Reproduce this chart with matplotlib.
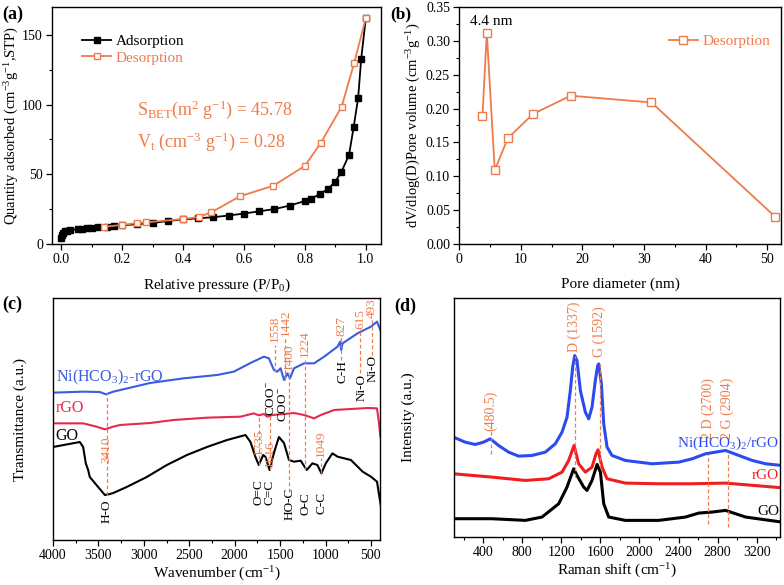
import matplotlib
matplotlib.use('Agg')
import matplotlib.pyplot as plt
from matplotlib.ticker import MultipleLocator, NullLocator

plt.rcParams['font.family'] = ['Liberation Serif', 'DejaVu Serif']
plt.rcParams['mathtext.fontset'] = 'custom'
plt.rcParams['mathtext.rm'] = 'Liberation Serif'
plt.rcParams['mathtext.it'] = 'Liberation Serif:italic'
plt.rcParams['mathtext.bf'] = 'Liberation Serif:bold'

ORANGE = '#F07A4A'
BLUE_C = '#3B5BE0'
RED_C = '#E8294F'
BLUE_D = '#2B4BF0'
RED_D = '#F01E1E'

# ---------------- (a) N2 isotherm ----------------
ads_p = [0.001, 0.003, 0.007, 0.012, 0.02, 0.03, 0.055, 0.07, 0.085, 0.1, 0.12, 0.15,
         0.175, 0.2, 0.25, 0.3, 0.35, 0.4, 0.45, 0.5, 0.55, 0.6, 0.65, 0.7, 0.75, 0.8,
         0.82, 0.85, 0.875, 0.9, 0.92, 0.945, 0.96, 0.975, 0.985, 1.0]
ads_q = [4.0, 6.5, 8.2, 9.0, 9.6, 10.0, 10.6, 11.0, 11.3, 11.6, 12.0, 12.5,
         13.0, 13.4, 14.2, 15.0, 16.5, 17.6, 18.4, 19.2, 20.4, 21.8, 23.4, 25.0, 27.5, 30.8,
         32.5, 35.8, 39.4, 44.7, 51.8, 63.8, 83.6, 105.0, 133.0, 162.0]
des_p = [0.142, 0.2, 0.249, 0.278, 0.4, 0.452, 0.493, 0.587, 0.697, 0.8, 0.852, 0.921, 0.962, 1.0]
des_q = [12.4, 13.6, 15.0, 15.5, 17.9, 19.3, 22.7, 34.2, 41.8, 56.0, 72.4, 98.6, 130.0, 162.0]

# ---------------- (b) pore size distribution ----------------
pore_d = [3.8, 4.5, 5.8, 7.9, 12.0, 18.1, 31.2, 51.3]
pore_v = [0.189, 0.312, 0.109, 0.156, 0.192, 0.219, 0.209, 0.040]

# ---------------- (c) FTIR ----------------
ir_go_x = [4000, 3705, 3668, 3639, 3613, 3595, 3503, 3429, 3374, 3337, 3189, 2968, 2747,
           2526, 2305, 2084, 1881, 1826, 1771, 1734, 1686, 1660, 1616, 1568, 1513, 1457,
           1402, 1347, 1273, 1207, 1144, 1089, 1045, 997, 924, 868, 720, 591, 500, 433,
           407, 389]
ir_go_y = [2.79, 2.94, 2.79, 2.30, 2.10, 1.89, 1.59, 1.35, 1.38, 1.41, 1.59, 1.89, 2.25,
           2.55, 2.79, 3.00, 3.15, 2.94, 2.49, 2.25, 2.55, 2.49, 2.10, 2.61, 3.09, 2.91,
           2.40, 2.35, 2.38, 2.10, 2.30, 2.25, 2.00, 2.30, 2.60, 2.50, 2.40, 2.05, 1.90, 1.75,
           1.30, 1.00]
ir_rgo_x = [4000, 3668, 3521, 3429, 3337, 3263, 2931, 2673, 2305, 1936, 1789, 1734, 1678,
            1642, 1586, 1457, 1347, 1236, 1126, 1052, 905, 720, 536, 433, 411, 396]
ir_rgo_y = [3.50, 3.50, 3.40, 3.32, 3.40, 3.45, 3.51, 3.60, 3.67, 3.70, 3.80, 3.74, 3.78,
            3.70, 3.75, 3.78, 3.81, 3.75, 3.65, 3.75, 3.90, 3.93, 3.96, 3.95, 3.50, 3.10]
ir_ni_x = [4000, 3668, 3484, 3418, 3337, 2931, 2563, 2194, 2010, 1826, 1678, 1623, 1568,
           1531, 1494, 1457, 1420, 1391, 1347, 1236, 1126, 1015, 868, 838, 827, 812, 647,
           500, 433, 396]
ir_ni_y = [4.42, 4.45, 4.44, 4.37, 4.45, 4.71, 4.85, 4.95, 5.05, 5.31, 5.50, 5.45, 5.10,
           5.05, 5.15, 4.80, 5.00, 4.85, 5.15, 5.30, 5.30, 5.50, 5.80, 5.95, 5.70, 5.90, 6.20,
           6.40, 6.55, 6.30]

# ---------------- (d) Raman ----------------
ra_ni_x = [96, 215, 318, 403, 472, 557, 660, 762, 899, 1036, 1138, 1207, 1258, 1292, 1316,
           1337, 1360, 1395, 1446, 1480, 1514, 1548, 1572, 1583, 1610, 1634, 1668, 1719,
           1856, 2129, 2403, 2540, 2676, 2881, 3018, 3155, 3292, 3456]
ra_ni_y = [3.00, 2.85, 2.78, 2.85, 2.95, 2.75, 2.55, 2.43, 2.45, 2.55, 2.80, 3.15, 3.60, 4.40,
           5.10, 5.45, 5.30, 4.40, 3.75, 3.55, 3.90, 4.70, 5.15, 5.20, 4.60, 3.40, 2.70, 2.45,
           2.30, 2.20, 2.25, 2.35, 2.50, 2.60, 2.45, 2.30, 2.20, 2.15]
ra_rgo_x = [96, 489, 831, 1070, 1207, 1275, 1330, 1377, 1446, 1514, 1555, 1576, 1617, 1668,
            1856, 2198, 2540, 2881, 3456]
ra_rgo_y = [1.90, 1.80, 1.70, 1.75, 1.95, 2.30, 2.75, 2.20, 1.95, 2.10, 2.50, 2.62, 2.10, 1.75,
            1.62, 1.60, 1.60, 1.62, 1.48]
ra_go_x = [96, 489, 831, 1002, 1173, 1258, 1326, 1360, 1429, 1463, 1514, 1566, 1600, 1634,
           1685, 1856, 2198, 2471, 2608, 2745, 2881, 3087, 3456]
ra_go_y = [0.55, 0.55, 0.50, 0.60, 1.00, 1.50, 2.05, 1.85, 1.50, 1.40, 1.70, 2.18, 1.95, 1.00,
           0.60, 0.50, 0.50, 0.60, 0.72, 0.75, 0.80, 0.60, 0.45]

# FTIR annotations: (position, label, label_y, line_y0, line_y1)
ir_marks = [(3410, '3410', 2.70, 1.35, 4.40), (1735, '1735', 2.95, 2.25, 3.75),
            (1616, '1616', 2.60, 2.10, 3.75), (1558, '1558', 6.35, 5.05, 5.85),
            (1442, '1442', 6.53, 4.80, 6.10), (1400, '1400', 5.50, 1.45, 5.05),
            (1224, '1224', 5.90, 2.10, 5.45), (1049, '1049', 2.90, 2.00, 2.45),
            (827, '827', 6.43, 5.40, 6.15), (615, '615', 6.62, 5.00, 6.35),
            (493, '493', 6.95, 5.55, 6.65)]
ir_groups = [(3410, 'H-O', 0.85), (1735, 'O=C', 1.43), (1616, 'C=C', 1.43),
             (1600, 'COO$^{-}$', 4.25), (1468, 'COO$^{-}$', 4.05), (1400, 'HO-C', 1.10),
             (1224, 'O-C', 1.10), (1049, 'C-C', 1.10), (812, 'C-H', 5.05),
             (600, 'Ni-O', 4.58), (481, 'Ni-O', 5.15)]

# Raman annotations: (position, label, label_y, line_y0, line_y1)
ra_marks = [(480.5, '(480.5)', 3.80, 2.50, 3.30), (1337, 'D (1337)', 6.30, 1.80, 5.45),
            (1592, 'G (1592)', 6.18, 2.10, 5.20), (2700, '2 D (2700)', 3.85, 0.40, 2.50),
            (2904, '2 G (2904)', 3.85, 0.30, 2.50)]

fig = plt.figure(figsize=(7.84, 5.85), dpi=100)


def style_axes(ax):
    for s in ax.spines.values():
        s.set_linewidth(1.0)
    ax.tick_params(which='both', direction='out', top=False, right=False, labelsize=10)
    ax.tick_params(which='major', length=4, width=0.9, pad=2.5)
    ax.tick_params(which='minor', length=2.5, width=0.8)


# ---- (a) ----
axA = fig.add_axes([0.0663, 0.583, 0.4197, 0.405])
axA.plot(ads_p, ads_q, '-s', color='black', lw=1.3, ms=5, mfc='black', label='Adsorption')
axA.plot(des_p, des_q, '-s', color=ORANGE, lw=1.3, ms=5, mfc='white', mec=ORANGE,
         mew=1.0, label='Desorption')
axA.set_xlim(-0.03, 1.05)
axA.set_ylim(0, 170)
axA.xaxis.set_major_locator(MultipleLocator(0.2))
axA.xaxis.set_minor_locator(MultipleLocator(0.1))
axA.yaxis.set_major_locator(MultipleLocator(50))
axA.yaxis.set_minor_locator(MultipleLocator(25))
style_axes(axA)
axA.set_xlabel('Relative pressure (P/P$_0$)', fontsize=11, labelpad=8)
axA.set_ylabel('Quantity adsorbed (cm$^{-3}$g$^{-1}$,STP)', fontsize=10.5, labelpad=1)
legA = axA.legend(loc='upper left', frameon=False, fontsize=11, handlelength=1.9,
                  borderaxespad=0.3, handletextpad=0.3, labelspacing=0.2,
                  bbox_to_anchor=(0.06, 0.93))
legA.get_texts()[0].set_color('black')
legA.get_texts()[1].set_color(ORANGE)
axA.text(0.25, 96, 'S$_{\\rm BET}$(m$^2$ g$^{-1}$) = 45.78', color=ORANGE, fontsize=13,
         va='center')
axA.text(0.25, 73, 'V$_{\\rm t}$ (cm$^{-3}$ g$^{-1}$) = 0.28', color=ORANGE, fontsize=13,
         va='center')
fig.text(0.003, 0.975, '(a)', fontsize=13, fontweight='bold', va='center')

# ---- (b) ----
axB = fig.add_axes([0.5855, 0.583, 0.4105, 0.405])
axB.plot(pore_d, pore_v, '-s', color=ORANGE, lw=1.3, ms=6, mfc='white', mec=ORANGE,
         mew=1.0, label='Desorption')
axB.set_xlim(0, 52.2)
axB.set_ylim(0, 0.35)
axB.xaxis.set_major_locator(MultipleLocator(10))
axB.xaxis.set_minor_locator(MultipleLocator(5))
axB.yaxis.set_major_locator(MultipleLocator(0.05))
axB.yaxis.set_minor_locator(MultipleLocator(0.025))
style_axes(axB)
axB.set_xlabel('Pore diameter (nm)', fontsize=11, labelpad=8)
axB.set_ylabel('dV/dlog(D)Pore volume (cm$^{-3}$g$^{-1}$)', fontsize=10.5, labelpad=2)
legB = axB.legend(loc='upper right', frameon=False, fontsize=11, handlelength=1.9,
                  handletextpad=0.3, borderaxespad=0.3, bbox_to_anchor=(1.0, 0.93))
legB.get_texts()[0].set_color(ORANGE)
axB.text(5.3, 0.329, '4.4 nm', fontsize=11, ha='center', va='center')
fig.text(0.498, 0.975, '(b)', fontsize=12.5, fontweight='bold', va='center')

# ---- (c) ----
axC = fig.add_axes([0.0676, 0.0769, 0.4171, 0.4137])
axC.plot(ir_go_x, ir_go_y, color='black', lw=1.5)
axC.plot(ir_rgo_x, ir_rgo_y, color=RED_C, lw=1.5)
axC.plot(ir_ni_x, ir_ni_y, color=BLUE_C, lw=1.5)
for x, lab, ly, y0, y1 in ir_marks:
    axC.plot([x, x], [y0, y1], ls=(0, (3, 2)), color=ORANGE, lw=0.9)
    axC.text(x, ly, lab, rotation=90, color=ORANGE, fontsize=9.5, ha='center', va='center')
for x, lab, ly in ir_groups:
    axC.text(x, ly, lab, rotation=90, color='black', fontsize=9.5, ha='center', va='center')
axC.text(3965, 4.88, 'Ni(HCO$_3$)$_2$-rGO', color=BLUE_C, fontsize=11.5, va='center')
axC.text(3975, 3.95, 'rGO', color=RED_C, fontsize=11.5, va='center')
axC.text(3975, 3.13, 'GO', color='black', fontsize=11.5, va='center')
axC.set_xlim(4000, 400)
axC.set_ylim(0, 7.26)
axC.xaxis.set_major_locator(MultipleLocator(500))
axC.xaxis.set_minor_locator(MultipleLocator(250))
axC.yaxis.set_major_locator(NullLocator())
style_axes(axC)
axC.set_xlabel('Wavenumber (cm$^{-1}$)', fontsize=11, labelpad=2)
axC.set_ylabel('Transmittance (a.u.)', fontsize=11, labelpad=19)
fig.text(0.003, 0.479, '(c)', fontsize=13, fontweight='bold', va='center')

# ---- (d) ----
axD = fig.add_axes([0.579, 0.082, 0.416, 0.4086])
axD.plot(ra_go_x, ra_go_y, color='black', lw=2.2)
axD.plot(ra_rgo_x, ra_rgo_y, color=RED_D, lw=2.2)
axD.plot(ra_ni_x, ra_ni_y, color=BLUE_D, lw=2.2)
for x, lab, ly, y0, y1 in ra_marks:
    axD.plot([x, x], [y0, y1], ls=(0, (3, 2)), color=ORANGE, lw=0.9)
    axD.text(x, ly, lab, rotation=90, color=ORANGE, fontsize=10, ha='center', va='center')
axD.text(3430, 2.82, 'Ni(HCO$_3$)$_2$/rGO', color=BLUE_D, fontsize=11, ha='right', va='center')
axD.text(3430, 1.85, 'rGO', color=RED_D, fontsize=11, ha='right', va='center')
axD.text(3430, 0.78, 'GO', color='black', fontsize=11, ha='right', va='center')
axD.set_xlim(100, 3440)
axD.set_ylim(0, 7.18)
axD.xaxis.set_major_locator(MultipleLocator(400))
axD.xaxis.set_minor_locator(MultipleLocator(200))
axD.yaxis.set_major_locator(NullLocator())
style_axes(axD)
axD.set_xlabel('Raman shift (cm$^{-1}$)', fontsize=11, labelpad=2)
axD.set_ylabel('Intensity (a.u.)', fontsize=11, labelpad=28)
fig.text(0.503, 0.476, '(d)', fontsize=13, fontweight='bold', va='center')

fig.savefig('out.png', dpi=100)
